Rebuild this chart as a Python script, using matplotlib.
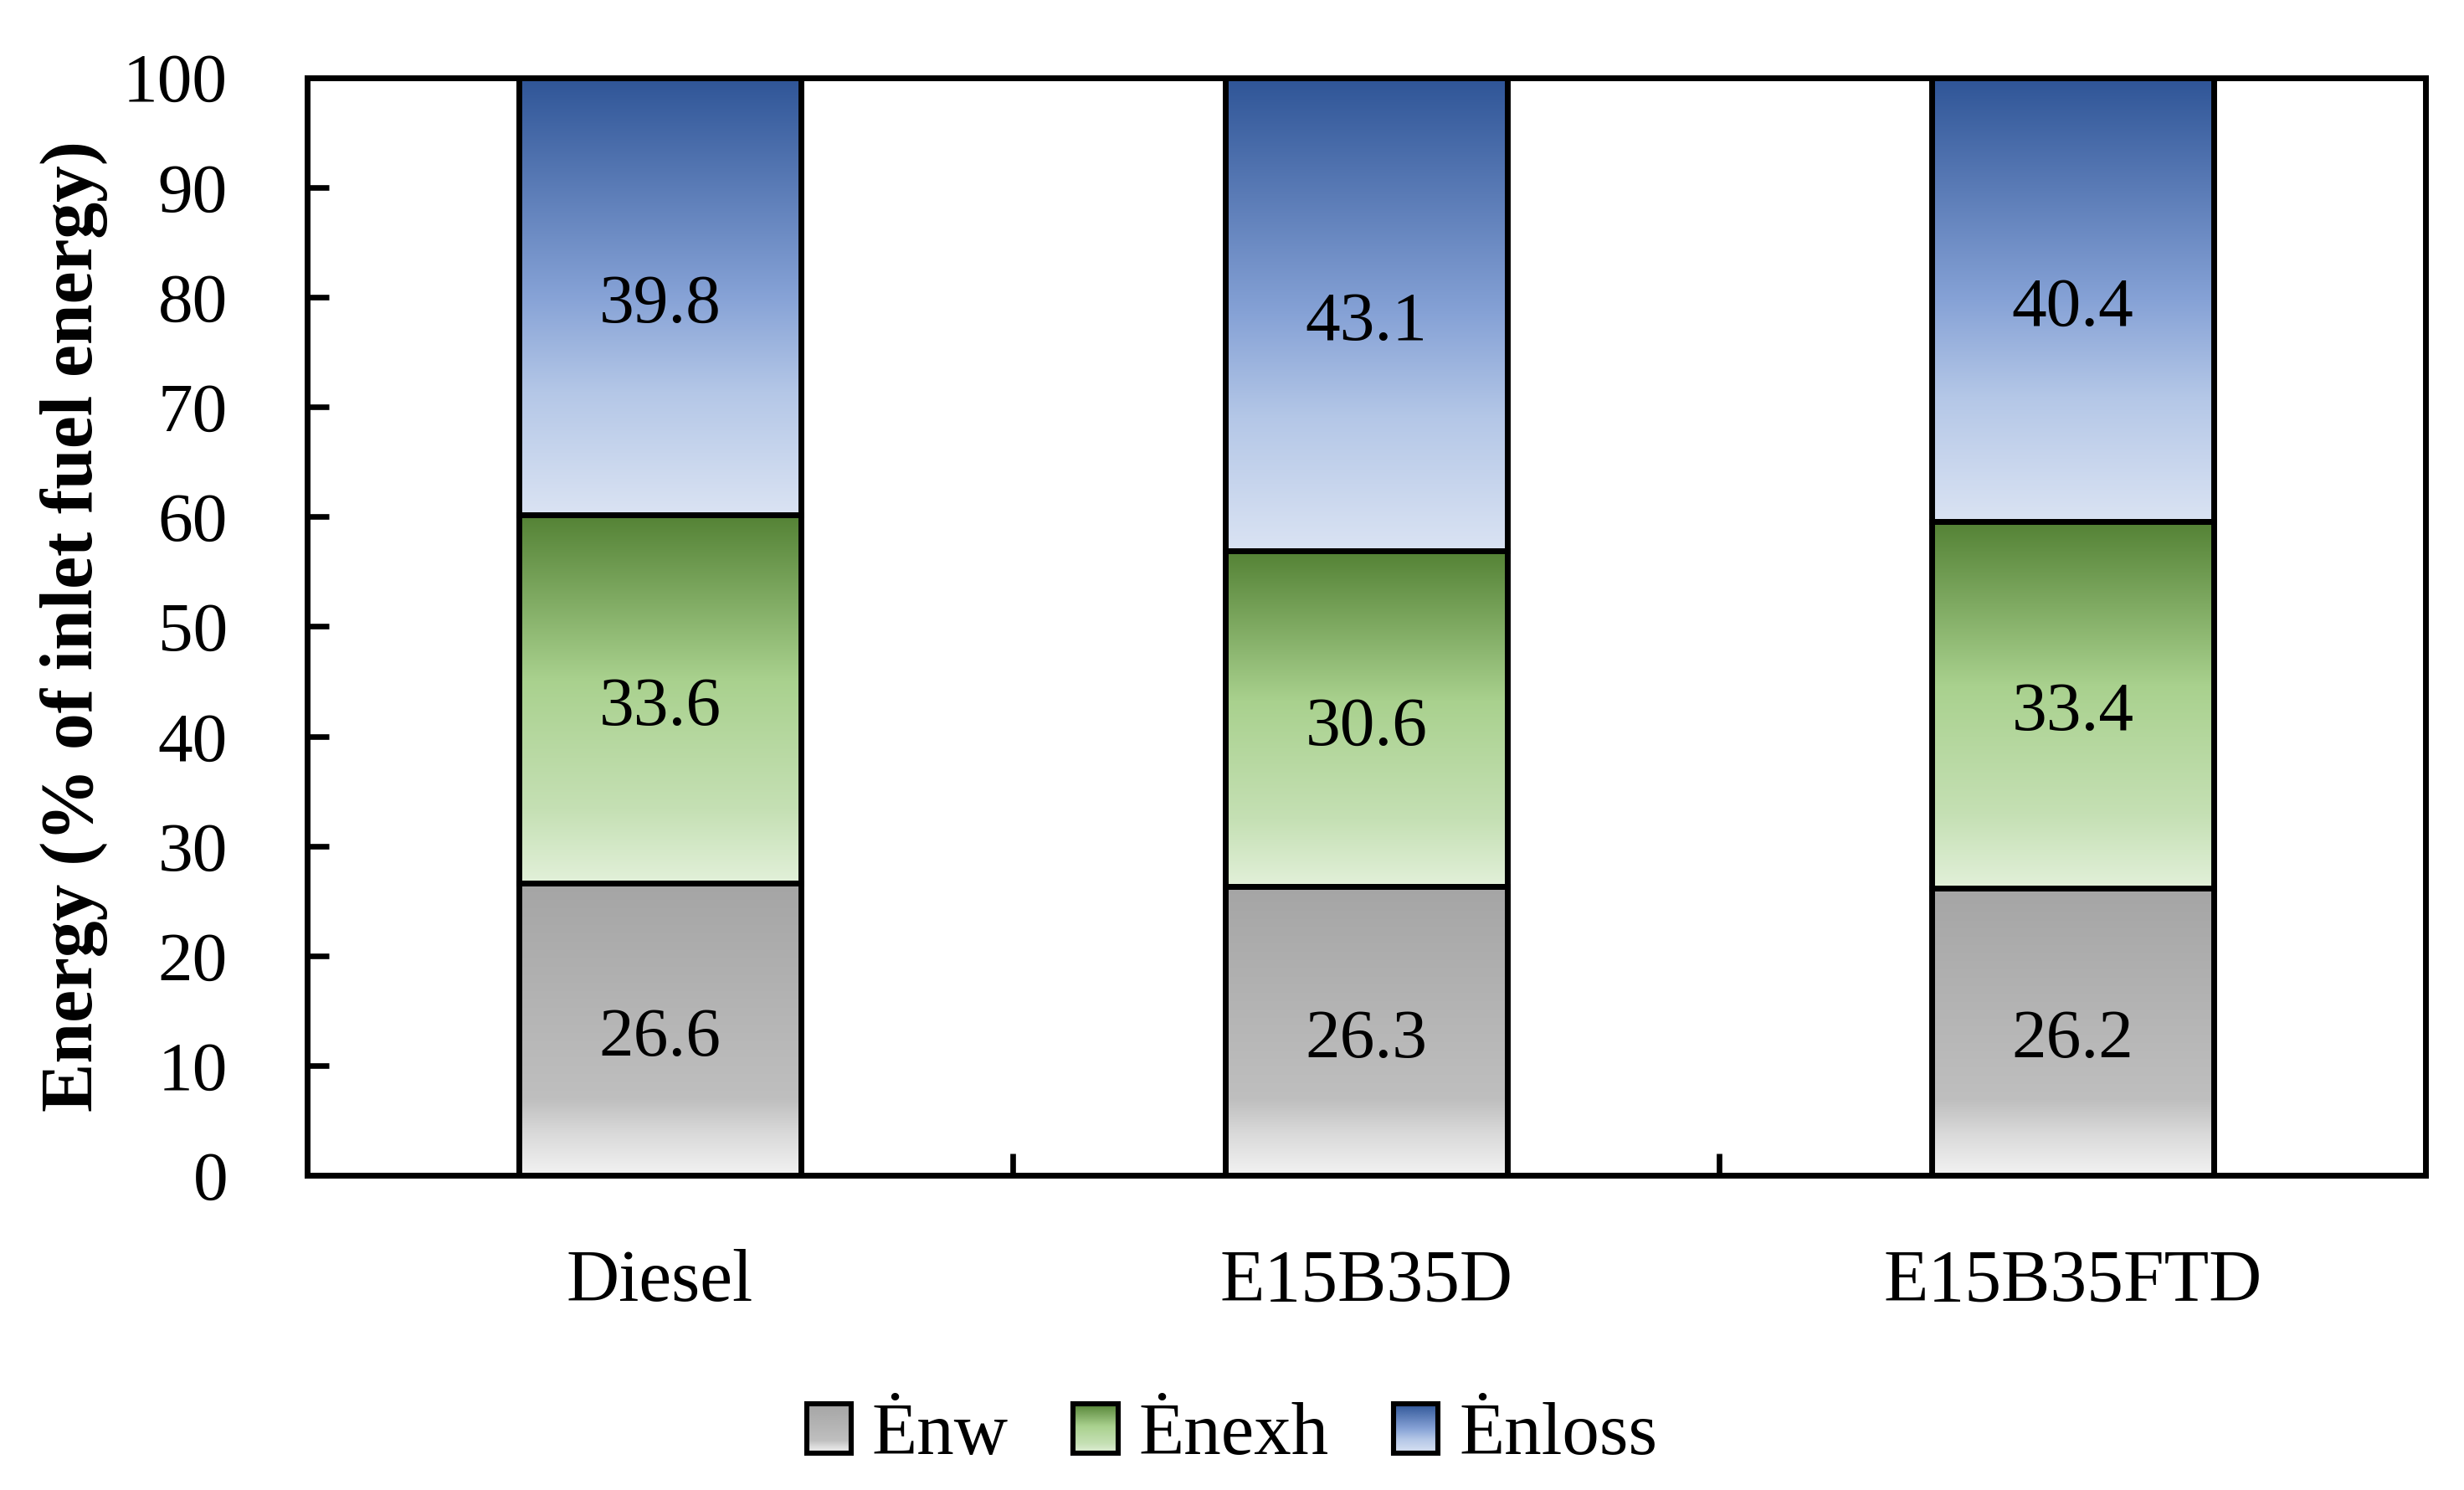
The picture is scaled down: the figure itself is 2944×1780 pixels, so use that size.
import numpy as np
import matplotlib
matplotlib.use("Agg")
import matplotlib.pyplot as plt
from matplotlib.colors import LinearSegmentedColormap
from matplotlib.legend_handler import HandlerBase
from matplotlib.image import BboxImage
from matplotlib.transforms import Bbox, TransformedBbox
from matplotlib.patches import Rectangle

plt.rcParams['font.family'] = ['Liberation Serif', 'DejaVu Serif']

# ---- data ----
categories = ["Diesel", "E15B35D", "E15B35FTD"]
series_names = ["\u0116nw", "\u0116nexh", "\u0116nloss"]
enw = [26.6, 26.3, 26.2]
enexh = [33.6, 30.6, 33.4]
enloss = [39.8, 43.1, 40.4]
yticks = [0, 10, 20, 30, 40, 50, 60, 70, 80, 90, 100]

# ---- gradients (top -> bottom) ----
grad_gray = [(0.0, "#a5a5a5"), (0.74, "#bfbfbf"), (0.86, "#dadada"), (1.0, "#f2f2f2")]
grad_green = [(0.0, "#548235"), (0.45, "#a9d18e"), (0.8, "#c5e0b4"), (1.0, "#e2f0d9")]
grad_blue = [(0.0, "#2f5597"), (0.5, "#86a2d6"), (0.72, "#b4c7e7"), (1.0, "#dae3f3")]
cmaps = [LinearSegmentedColormap.from_list("g%d" % i, g) for i, g in enumerate([grad_gray, grad_green, grad_blue])]
grad = np.linspace(0, 1, 256).reshape(-1, 1)

fig = plt.figure(figsize=(14.72, 8.9), dpi=200)
ax = fig.add_axes([0.1245, 0.211, 0.8600, 0.737])

x = np.arange(len(categories)) + 0.5
width = 0.4
bottom = np.zeros(len(categories))
series = [enw, enexh, enloss]
for vals, cmap in zip(series, cmaps):
    bars = ax.bar(x, vals, width=width, bottom=bottom, facecolor='none',
                  edgecolor='black', linewidth=2.5, zorder=3)
    for b, v in zip(bars, vals):
        x0, y0, w, h = b.get_x(), b.get_y(), b.get_width(), b.get_height()
        ax.imshow(grad, cmap=cmap, extent=[x0, x0 + w, y0, y0 + h], aspect='auto',
                  origin='upper', zorder=2, interpolation='bicubic')
        ax.annotate(f"{v:.1f}", (x0 + w / 2, y0 + h / 2), xytext=(0, -4),
                    textcoords='offset points', ha='center', va='center',
                    fontsize=30, zorder=4)
    bottom = bottom + np.array(vals)

ax.set_xlim(0, 3)
ax.set_ylim(0, 100)
ax.set_yticks(yticks)
ax.set_xticks(x)
ax.set_xticklabels(categories)
ax.set_xticks([1, 2], minor=True)
ax.tick_params(axis='x', which='major', length=0, pad=31.5, labelsize=31.5)
ax.tick_params(axis='x', which='minor', direction='in', length=9.4, width=2.4)
ax.tick_params(axis='y', which='major', direction='in', length=9.4, width=2.4, pad=34, labelsize=30)
for s in ax.spines.values():
    s.set_linewidth(2.5)

ax.set_ylabel("Energy (% of inlet fuel energy)", fontsize=31.5, fontweight='bold')
ax.yaxis.set_label_coords(-0.094, 0.5)


class GradHandler(HandlerBase):
    def __init__(self, cmap):
        super().__init__()
        self.cmap = cmap

    def create_artists(self, legend, orig_handle, xdescent, ydescent, width, height, fontsize, trans):
        bb = Bbox.from_bounds(-xdescent, -ydescent, width, height)
        img = BboxImage(TransformedBbox(bb, trans), cmap=self.cmap, interpolation='bicubic', origin='upper')
        img.set_data(grad)
        rect = Rectangle((-xdescent, -ydescent), width, height, facecolor='none',
                         edgecolor='black', linewidth=2.2, transform=trans)
        return [img, rect]


handles = [Rectangle((0, 0), 1, 1) for _ in series_names]
hmap = {h: GradHandler(c) for h, c in zip(handles, cmaps)}
fig.legend(handles, series_names, handler_map=hmap, loc='center', bbox_to_anchor=(0.5, 0.036),
           ncol=3, frameon=False, fontsize=32, handlelength=0.6, handleheight=0.64,
           handletextpad=0.28, columnspacing=0.87)

fig.savefig("out.png", dpi=200)
